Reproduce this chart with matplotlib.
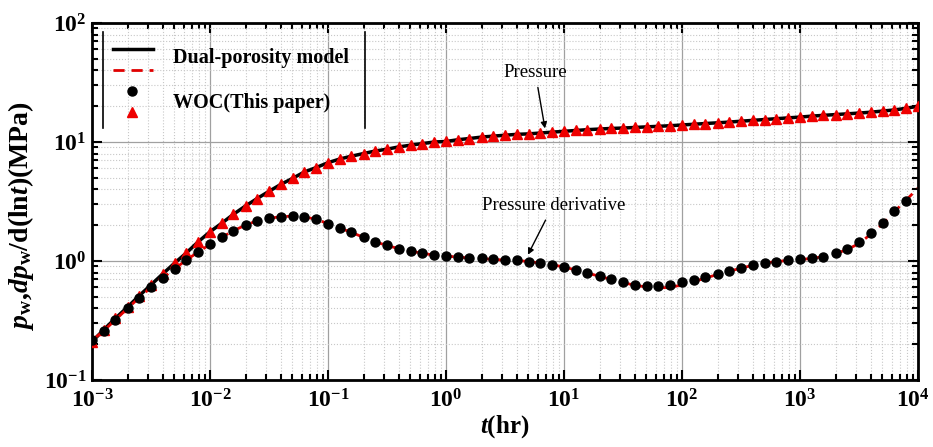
import numpy as np
import matplotlib
matplotlib.use("Agg")
import matplotlib.pyplot as plt
from matplotlib.ticker import FixedLocator, LogLocator, FuncFormatter, NullFormatter
from matplotlib.transforms import ScaledTranslation
from matplotlib.lines import Line2D

plt.rcParams['font.family'] = ['Liberation Serif', 'DejaVu Serif']
plt.rcParams['mathtext.fontset'] = 'custom'
plt.rcParams['mathtext.rm'] = 'Liberation Serif:bold'
plt.rcParams['mathtext.it'] = 'Liberation Serif:italic:bold'
plt.rcParams['mathtext.bf'] = 'Liberation Serif:bold'

# time (hr), 10 samples per decade
t = [0.001, 0.00126, 0.00158, 0.002, 0.00251, 0.00316, 0.00398, 0.00501, 0.00631, 0.00794,
     0.01, 0.0126, 0.0158, 0.02, 0.0251, 0.0316, 0.0398, 0.0501, 0.0631, 0.0794,
     0.1, 0.126, 0.158, 0.2, 0.251, 0.316, 0.398, 0.501, 0.631, 0.794,
     1.0, 1.26, 1.58, 2.0, 2.51, 3.16, 3.98, 5.01, 6.31, 7.94,
     10.0, 12.6, 15.8, 20.0, 25.1, 31.6, 39.8, 50.1, 63.1, 79.4,
     100.0, 126.0, 158.0, 200.0, 251.0, 316.0, 398.0, 501.0, 631.0, 794.0,
     1000.0, 1260.0, 1580.0, 2000.0, 2510.0, 3160.0, 3980.0, 5010.0, 6310.0, 7940.0,
     10000.0]

# pressure (MPa) - WOC points and dual-porosity model coincide
pressure = [0.21, 0.265, 0.33, 0.41, 0.51, 0.63, 0.78, 0.96, 1.17, 1.45,
            1.76, 2.08, 2.47, 2.9, 3.35, 3.85, 4.4, 4.95, 5.6, 6.1,
            6.7, 7.2, 7.6, 8.0, 8.4, 8.7, 9.1, 9.4, 9.7, 10.0,
            10.1, 10.45, 10.7, 11.0, 11.2, 11.4, 11.6, 11.7, 11.9, 12.1,
            12.3, 12.5, 12.7, 12.85, 13.0, 13.1, 13.25, 13.4, 13.55, 13.7,
            13.9, 14.1, 14.3, 14.5, 14.7, 14.95, 15.2, 15.45, 15.7, 15.95,
            16.2, 16.5, 16.75, 17.0, 17.25, 17.5, 17.8, 18.2, 18.6, 19.2,
            20.0]

# pressure derivative, WOC (this paper), t[0] .. t[69]
deriv_woc = [0.215, 0.26, 0.32, 0.40, 0.49, 0.60, 0.72, 0.86, 1.02, 1.19,
             1.38, 1.58, 1.80, 2.0, 2.18, 2.28, 2.36, 2.38, 2.35, 2.24,
             2.06, 1.89, 1.74, 1.58, 1.45, 1.35, 1.27, 1.21, 1.16, 1.12,
             1.10, 1.08, 1.06, 1.05, 1.03, 1.02, 1.01, 0.99, 0.96, 0.93,
             0.89, 0.84, 0.79, 0.745, 0.70, 0.67, 0.63, 0.62, 0.615, 0.63,
             0.66, 0.69, 0.73, 0.78, 0.83, 0.88, 0.92, 0.96, 0.99, 1.01,
             1.03, 1.05, 1.09, 1.16, 1.26, 1.44, 1.72, 2.09, 2.61, 3.2]

# pressure derivative, dual-porosity model
deriv_model = [0.215, 0.26, 0.32, 0.40, 0.49, 0.60, 0.72, 0.86, 1.02, 1.19,
               1.38, 1.58, 1.80, 2.0, 2.18, 2.28, 2.36, 2.38, 2.35, 2.24,
               2.06, 1.89, 1.74, 1.58, 1.45, 1.35, 1.27, 1.21, 1.16, 1.12,
               1.10, 1.08, 1.06, 1.05, 1.03, 1.02, 1.01, 0.99, 0.96, 0.93,
               0.89, 0.84, 0.79, 0.745, 0.70, 0.66, 0.625, 0.605, 0.595, 0.60,
               0.63, 0.67, 0.72, 0.77, 0.82, 0.87, 0.92, 0.96, 0.99, 1.01,
               1.03, 1.05, 1.09, 1.15, 1.25, 1.40, 1.68, 2.05, 2.6, 3.25,
               4.1]

xticks = [1e-3, 1e-2, 1e-1, 1e0, 1e1, 1e2, 1e3, 1e4]
yticks = [1e-1, 1e0, 1e1, 1e2]

fig = plt.figure(figsize=(9.33, 4.47), dpi=100, facecolor="white")
ax = fig.add_axes([92 / 933, 67 / 447, 826 / 933, 357 / 447])

ax.plot(t, pressure, color="black", lw=2.5, zorder=2)
ax.plot(t, deriv_model, color="#e00000", lw=2, dashes=(4, 2.5), zorder=2)
ax.plot(t, pressure, ls="none", marker="^", ms=7.5, color="#ee0000", zorder=3)
ax.plot(t[:len(deriv_woc)], deriv_woc, ls="none", marker="o", ms=6.5,
        color="black", zorder=4)

ax.set_xscale("log")
ax.set_yscale("log")
ax.set_xlim(1e-3, 1e4)
ax.set_ylim(0.1, 100)

fmt = FuncFormatter(lambda v, pos: r'$\mathbf{10^{%d}}$' % round(np.log10(v)))
for axis, ticks in ((ax.xaxis, xticks), (ax.yaxis, yticks)):
    axis.set_major_locator(FixedLocator(ticks))
    axis.set_minor_locator(LogLocator(base=10, subs=np.arange(2, 10), numticks=20))
    axis.set_major_formatter(fmt)
    axis.set_minor_formatter(NullFormatter())

ax.tick_params(which="both", direction="in", top=True, right=True, width=1.5)
ax.tick_params(which="major", length=7, labelsize=17)
ax.tick_params(axis="x", which="major", pad=7)
ax.tick_params(axis="y", which="major", pad=4)
ax.tick_params(which="minor", length=4)
for s in ax.spines.values():
    s.set_linewidth(2)

ax.grid(which="major", color="#a0a0a0", lw=0.9)
ax.grid(which="minor", color="#c8c8c8", lw=0.8, ls=":")
ax.set_axisbelow(True)

ax.set_xlabel(r'$t\mathrm{(hr)}$', fontsize=18, labelpad=0)
ax.set_ylabel(r'$p_{\mathrm{w}}\mathrm{,}dp_{\mathrm{w}}\mathrm{/d(ln}t\mathrm{)(MPa)}$',
              fontsize=20)
ax.yaxis.set_label_coords(-0.068, 0.46)

# annotations
ax.annotate("Pressure", xy=(6.9, 13.0), xytext=(5.7, 38.7),
            fontsize=13.5, ha="center", va="center",
            arrowprops=dict(arrowstyle="-|>", color="black", lw=1,
                            mutation_scale=9, shrinkA=3, shrinkB=0))
ax.annotate("Pressure derivative", xy=(4.95, 1.13), xytext=(8.1, 2.95),
            fontsize=13.5, ha="center", va="center",
            arrowprops=dict(arrowstyle="-|>", color="black", lw=1,
                            mutation_scale=9, shrinkA=3, shrinkB=0))

# legend, drawn in axes fraction coordinates
def px(x, y):
    return (x - 92) / 826, (380 - y) / 357

tr = ax.transAxes
for xx in (103, 365):
    x0, y0 = px(xx, 32)
    x1, y1 = px(xx, 128)
    ax.add_line(Line2D([x0, x1], [y0, y1], color="black", lw=1.2,
                       transform=tr, zorder=6))
x0, y0 = px(113, 49)
x1, _ = px(153, 49)
ax.add_line(Line2D([x0, x1], [y0, y0], color="black", lw=2.5, transform=tr, zorder=6))
x0, y0 = px(113, 70)
ax.add_line(Line2D([x0, x1], [y0, y0], color="#e00000", lw=2, dashes=(4, 2.5),
                   transform=tr, zorder=6))
xm, ym = px(132, 91)
ax.add_line(Line2D([xm], [ym], ls="none", marker="o", ms=6.5, color="black",
                   transform=tr, zorder=6))
xm, ym = px(132, 112)
ax.add_line(Line2D([xm], [ym], ls="none", marker="^", ms=7.5, color="#ee0000",
                   transform=tr, zorder=6))
xt, yt = px(173, 58)
ax.text(xt, yt, "Dual-porosity model", transform=tr, fontsize=14.5,
        fontweight="bold", va="center", ha="left", zorder=6)
xt, yt = px(173, 103)
ax.text(xt, yt, "WOC(This paper)", transform=tr, fontsize=14.5,
        fontweight="bold", va="center", ha="left", zorder=6)

# nudge the last x tick label so it stays inside the figure
fig.canvas.draw()
last = ax.xaxis.get_major_ticks()[-1].label1
last.set_transform(last.get_transform() + ScaledTranslation(-4 / 72, 0, fig.dpi_scale_trans))

fig.savefig("out.png", dpi=100)
